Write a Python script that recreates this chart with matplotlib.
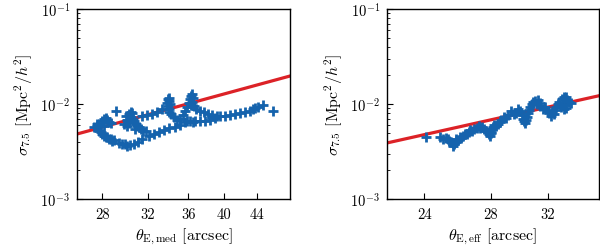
import numpy as np
import matplotlib
matplotlib.use("Agg")
import matplotlib.pyplot as plt
from matplotlib.ticker import FixedLocator, NullLocator, NullFormatter, LogLocator, LogFormatterSciNotation, FixedFormatter

plt.rcParams['mathtext.fontset'] = 'cm'
plt.rcParams['font.family'] = ['cmr10', 'DejaVu Serif']
plt.rcParams['axes.formatter.use_mathtext'] = True

# ---- data: left panel (theta_E,med vs sigma_7.5) ----
left_x = [27.32, 27.57, 27.57, 27.73, 27.90, 27.98, 28.14, 28.31, 28.39, 28.56, 28.73, 28.81, 28.98,
          29.41, 29.68, 29.94, 30.12, 30.38, 30.74, 31.10, 31.47, 32.13, 32.61, 33.09, 33.59, 34.08,
          34.59, 35.10, 35.62, 36.15, 36.68, 37.23, 37.78, 38.35, 38.91, 39.49, 40.08, 40.67, 41.27,
          41.89, 42.51, 43.15, 43.53, 43.79, 44.18, 44.84, 46.20,
          27.73, 27.98, 28.14, 28.31, 28.39, 28.56, 28.14, 28.73, 29.15,
          29.85, 30.03, 30.12, 30.29, 30.47, 30.56, 30.47, 30.65, 30.74, 30.92, 31.01, 31.19, 31.38,
          31.56, 30.12, 30.29, 30.83, 31.84,
          31.47, 31.94, 32.41, 32.90, 33.39,
          33.79, 33.89, 33.99, 34.08, 33.89, 34.08, 34.18, 33.99, 34.28, 34.49, 34.80, 35.10, 35.41,
          35.62, 35.83,
          36.04, 36.15, 36.25, 36.36, 36.47, 36.36, 36.25, 36.57,
          36.79, 37.23, 37.67, 38.12, 38.58, 39.14, 35.83, 36.47]
left_y = [5.73e-3, 6.16e-3, 5.87e-3, 5.20e-3, 5.07e-3, 4.83e-3, 4.60e-3, 4.49e-3, 4.49e-3, 4.28e-3,
          4.28e-3, 4.08e-3, 4.18e-3,
          3.89e-3, 3.79e-3, 3.79e-3, 3.61e-3, 3.70e-3, 3.79e-3, 3.98e-3, 4.28e-3, 4.60e-3, 4.83e-3,
          5.07e-3, 5.33e-3, 5.59e-3,
          5.73e-3, 6.01e-3, 6.46e-3, 6.62e-3, 6.62e-3, 6.62e-3, 6.62e-3, 6.79e-3, 7.12e-3, 7.48e-3,
          7.48e-3, 7.66e-3, 7.85e-3,
          8.04e-3, 8.24e-3, 8.44e-3, 8.86e-3, 9.08e-3, 9.30e-3, 9.76e-3, 8.44e-3,
          6.16e-3, 6.62e-3, 6.95e-3, 7.12e-3, 6.79e-3, 6.46e-3, 5.87e-3, 6.31e-3, 8.44e-3,
          6.16e-3, 7.48e-3, 6.79e-3, 7.85e-3, 8.24e-3, 8.04e-3, 7.30e-3, 6.95e-3, 6.62e-3, 6.16e-3,
          5.87e-3, 5.73e-3, 5.46e-3,
          5.20e-3, 5.87e-3, 6.31e-3, 5.46e-3, 5.20e-3,
          7.48e-3, 7.66e-3, 7.85e-3, 8.24e-3, 8.86e-3,
          1.025e-2, 1.129e-2, 1.075e-2, 1.155e-2, 9.53e-3, 8.86e-3, 1.0e-2, 8.24e-3, 7.85e-3, 7.30e-3,
          6.79e-3, 6.95e-3, 7.66e-3,
          8.44e-3, 9.30e-3,
          1.025e-2, 1.129e-2, 1.214e-2, 1.274e-2, 1.155e-2, 1.05e-2, 9.76e-3, 9.53e-3,
          8.86e-3, 8.44e-3, 8.24e-3, 7.85e-3, 7.66e-3, 7.48e-3, 6.62e-3, 6.46e-3]

# ---- data: right panel (theta_E,eff vs sigma_7.5) ----
right_x = [24.07, 24.88, 25.06, 25.24, 25.36, 25.42, 25.54, 25.66, 25.66, 25.72, 25.85, 25.85, 25.97,
           26.04, 26.16, 26.28, 26.35, 26.47, 26.60, 26.67, 26.80, 26.92, 27.12, 27.25, 27.31, 27.44,
           27.57, 27.70, 27.83, 27.90, 27.97, 28.00, 28.00, 28.07, 28.13, 28.20, 28.33, 28.46, 28.59,
           28.66, 28.85, 28.99, 29.12, 29.32, 29.53, 29.67, 29.86, 30.00, 30.14, 30.21, 30.28, 30.35,
           30.42, 30.49, 30.54, 30.62, 30.69, 30.82, 30.89, 31.03, 31.24, 31.17, 31.39, 31.39, 31.59,
           31.74, 31.96, 32.10, 32.25, 32.32, 32.47, 32.55, 32.62, 32.77, 32.85, 33.07, 33.22, 33.38,
           33.45, 33.61, 33.76, 33.22, 33.38, 33.22, 33.00]
right_y = [4.49e-3, 4.49e-3, 4.28e-3, 4.38e-3, 4.28e-3, 4.08e-3, 3.98e-3, 3.61e-3, 3.89e-3, 3.79e-3,
           3.98e-3, 4.28e-3, 4.18e-3,
           4.49e-3, 4.38e-3, 4.60e-3, 4.83e-3, 4.83e-3, 5.07e-3, 5.33e-3, 5.20e-3, 5.46e-3, 5.59e-3,
           5.87e-3, 5.59e-3, 5.73e-3,
           5.46e-3, 5.20e-3, 5.07e-3, 4.83e-3, 4.60e-3, 4.95e-3, 5.07e-3, 5.46e-3, 5.73e-3, 6.01e-3,
           5.87e-3, 6.16e-3, 6.46e-3,
           6.79e-3, 7.30e-3, 7.12e-3, 7.66e-3, 8.44e-3, 7.85e-3, 8.04e-3, 8.86e-3, 8.44e-3, 7.66e-3,
           6.95e-3, 6.62e-3, 6.31e-3,
           6.79e-3, 7.30e-3, 8.04e-3, 8.65e-3, 9.30e-3, 1.0e-2, 1.05e-2, 1.075e-2, 1.10e-2, 1.0e-2,
           1.025e-2, 9.53e-3, 8.86e-3,
           9.30e-3, 8.44e-3, 8.04e-3, 7.48e-3, 8.24e-3, 7.85e-3, 8.65e-3, 9.30e-3, 1.0e-2, 1.05e-2,
           1.129e-2, 1.185e-2, 1.185e-2,
           1.10e-2, 1.05e-2, 1.025e-2, 9.76e-3, 9.08e-3, 8.86e-3, 9.30e-3]

# power-law fit lines (endpoints)
fit_left_x = [26.0, 48.5]
fit_left_y = [4.83e-3, 1.97e-2]
fit_right_x = [22.0, 36.0]
fit_right_y = [3.89e-3, 1.22e-2]

left_ticks = [28, 32, 36, 40, 44]
right_ticks = [24, 28, 32]
left_xlim = (26.0, 48.5)
right_xlim = (22.0, 36.0)
ylim = (1e-3, 1e-1)

BLUE = '#1563ad'
RED = '#dc2227'

fig = plt.figure(figsize=(6.0, 2.51), dpi=100)
ax1 = fig.add_axes([0.1283, 0.2032, 0.355, 0.757])
ax2 = fig.add_axes([0.645, 0.2032, 0.353, 0.757])

panels = [
    (ax1, left_x, left_y, fit_left_x, fit_left_y, left_ticks, left_xlim, r'$\theta_{\rm E,med}$ [arcsec]'),
    (ax2, right_x, right_y, fit_right_x, fit_right_y, right_ticks, right_xlim, r'$\theta_{\rm E,eff}$ [arcsec]'),
]

for ax, xs, ys, fx, fy, ticks, xlim, xlabel in panels:
    ax.set_xscale('log')
    ax.set_yscale('log')
    ax.plot(fx, fy, color=RED, lw=2.3, zorder=2)
    ax.plot(xs, ys, linestyle='none', marker='+', ms=6.5, mew=2.0, color=BLUE, zorder=3)
    ax.set_xlim(*xlim)
    ax.set_ylim(*ylim)
    ax.xaxis.set_major_locator(FixedLocator(ticks))
    ax.xaxis.set_major_formatter(FixedFormatter([str(t) for t in ticks]))
    ax.xaxis.set_minor_locator(NullLocator())
    ax.xaxis.set_minor_formatter(NullFormatter())
    ax.yaxis.set_major_locator(LogLocator(base=10, numticks=10))
    ax.yaxis.set_major_formatter(LogFormatterSciNotation())
    ax.yaxis.set_minor_locator(LogLocator(base=10, subs=np.arange(2, 10), numticks=10))
    ax.yaxis.set_minor_formatter(NullFormatter())
    ax.tick_params(axis='both', which='major', direction='in', length=4, width=0.8, labelsize=10.5)
    ax.tick_params(axis='both', which='minor', direction='in', length=2.5, width=0.6)
    ax.tick_params(axis='x', pad=6)
    ax.tick_params(axis='y', pad=5)
    for s in ax.spines.values():
        s.set_linewidth(1.0)
    ax.set_xlabel(xlabel, fontsize=11.5, labelpad=3)
    ax.set_ylabel(r'$\sigma_{7.5}$ [Mpc$^2/h^2$]', fontsize=11.5, labelpad=4)

fig.savefig('out.png', dpi=100)
